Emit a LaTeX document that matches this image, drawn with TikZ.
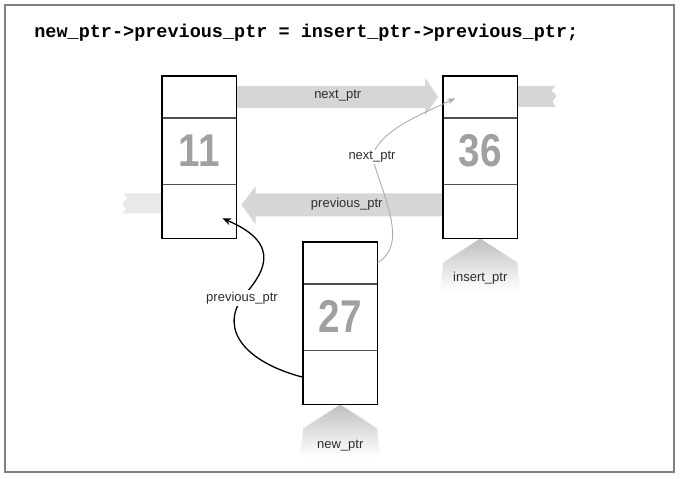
\documentclass[tikz,border=0pt]{standalone}
\usepackage{fontspec}
\usepackage{graphicx}
\setmainfont{Liberation Sans}
\newfontfamily\codefont{Liberation Mono}
\usetikzlibrary{arrows.meta,calc,positioning,backgrounds}
\definecolor{framegray}{HTML}{808080}
\definecolor{bandgray}{HTML}{D6D6D6}
\definecolor{fadegray}{HTML}{E9E9E9}
\definecolor{numgray}{HTML}{A0A0A0}
\definecolor{labelgray}{HTML}{2E2E2E}
\definecolor{cellgray}{HTML}{505050}
\tikzset{every picture/.style={line width=0.75pt}}
\tikzset{
  cell/.style={draw=cellgray, line width=0.5pt, minimum width=74pt, inner sep=0pt, anchor=north west},
  boxedge/.style={line width=1.6pt},
  lbl/.style={font=\fontsize{13}{13}\selectfont, text=labelgray, inner sep=1.5pt},
  band/.style={fill=bandgray, draw=none},
  pointer/.style={top color=gray!50, bottom color=white, draw=none},
}
\newcommand{\numfont}{\fontsize{46}{46}\selectfont\bfseries\color{numgray}}

\begin{document}
\begin{tikzpicture}[x=1pt,y=1pt,yscale=-1,xscale=1]
\useasboundingbox (0,0) rectangle (680,479);

%Frame
\draw [framegray, line width=2pt] (5,5) rectangle (674,472);

% Code line
\node [anchor=west, inner sep=0pt, font=\codefont\bfseries\fontsize{18.5}{18.5}\selectfont] (code) at (34,33) {new\_ptr->previous\_ptr = insert\_ptr->previous\_ptr;};

%List cells: top, value, bottom
\foreach \nm/\x/\y in {11/162/76, 36/443/76, 27/303/242}{
  \node [cell, minimum height=41pt] (c\nm-top) at (\x,\y) {};
  \node [cell, minimum height=66pt] (c\nm-mid) at (c\nm-top.south west) {};
  \node [cell, minimum height=54pt] (c\nm-bot) at (c\nm-mid.south west) {};
  \node (v\nm) at (c\nm-mid.center) {\numfont\scalebox{0.84}[1]{\nm}};
  \draw [boxedge] (c\nm-top.north west) rectangle (c\nm-bot.south east);
}

%Gray block arrows
\begin{pgfonlayer}{background}
\draw [band] ($(c11-top.east)+(0,-11)$) -- ($(c36-top.west)+(-18,-11)$) -- ($(c36-top.west)+(-18,-19)$)
  -- ($(c36-top.west)+(-5,0)$) -- ($(c36-top.west)+(-18,19)$) -- ($(c36-top.west)+(-18,11)$)
  -- ($(c11-top.east)+(0,11)$) -- cycle;
\draw [band] ($(c36-top.east)+(0,-11)$) -- ++(38,0) -- ++(-4,5) -- ++(5,5) -- ++(-4,6) -- ++(3,5)
  -- ($(c36-top.east)+(0,10)$) -- cycle;
\draw [band] ($(c36-bot.west)+(0,-18)$) -- ($(c11-bot.east)+(19,-18)$) -- ($(c11-bot.east)+(19,-25)$)
  -- ($(c11-bot.east)+(5,-6.5)$) -- ($(c11-bot.east)+(19,13)$) -- ($(c11-bot.east)+(19,5)$)
  -- ($(c36-bot.west)+(0,5)$) -- cycle;
\draw [fill=fadegray, draw=none] ($(c11-bot.west)+(0,-18)$) -- ++(-39,0) -- ++(4,5) -- ++(-5,5) -- ++(4,5) -- ++(-3,5)
  -- ($(c11-bot.west)+(0,2)$) -- cycle;
%Upward pointers
\foreach \nm in {36,27}{
  \draw [pointer] (c\nm-bot.south) -- ++(37,24) -- ++(3,28) -- ++(-80,0) -- ++(3,-28) -- cycle;
}
\end{pgfonlayer}

% Text Node
\node [lbl] (nextband) at ($(c11-top.east)!0.5!(c36-top.west)+(-2,-1)$) {next\_ptr};
\node [lbl] (prevband) at ($(c11-bot.east)!0.5!(c36-bot.west)+(7,-7)$) {previous\_ptr};
\node [lbl, anchor=north] (insertlbl) at ($(c36-bot.south)+(0,32)$) {insert\_ptr};
\node [lbl, anchor=north] (newlbl) at ($(c27-bot.south)+(0,34)$) {new\_ptr};

%Pointer curves
\coordinate (prevmid) at (242,298);
\coordinate (prevtip) at ($(c11-bot.center)+(23,7)$);
\coordinate (nextmid) at (372,157);
\coordinate (nexttip) at ($(c36-top.center)+(-25,1.5)$);
\draw [line width=1.3pt, -{Stealth[length=9pt,width=7pt]}] (c27-bot.west) .. controls (245,362) and (220,330) .. (prevmid) .. controls (262,275) and (285,245) .. (prevtip);
\draw [gray!65, line width=0.9pt, -{Stealth[length=8pt,width=6pt]}] (c27-top.east) .. controls (408,245) and (385,200) .. (nextmid) .. controls (380,130) and (420,115) .. (nexttip);
\node [lbl, fill=white] (prevlbl) at (prevmid) {previous\_ptr};
\node [lbl, fill=white] (nextlbl) at (nextmid) {next\_ptr};
\end{tikzpicture}
\end{document}
